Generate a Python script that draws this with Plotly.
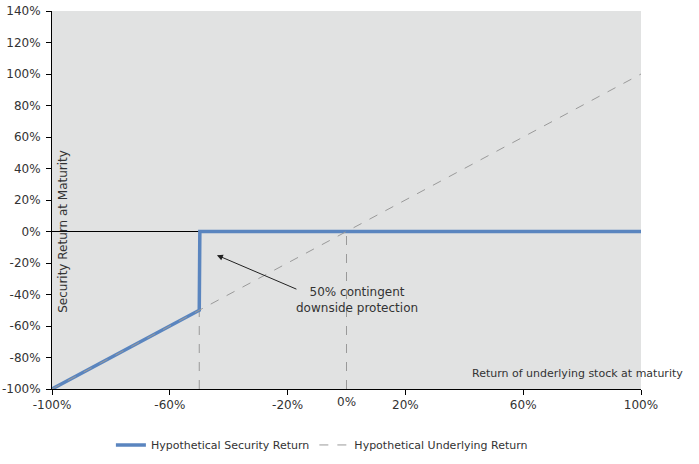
import plotly.graph_objects as go

# underlying stock return at maturity (%)
underlying_x = [-100, -50, 0, 100]
underlying_y = [-100, -50, 0, 100]

# security return: follows stock down to -50%, then protected at 0%
security_x = [-100, -50, -49.8, 100]
security_y = [-100, -50, 0, 0]

x_ticks = [-100, -60, -20, 20, 60, 100]
y_ticks = list(range(-100, 141, 20))

# guide lines down to the x axis
guide_x = [-50, 0]
guide_top = [-50, 0]

font_name = 'DejaVu Sans'
txt = '#333333'

fig = go.Figure()
for gx, gt in zip(guide_x, guide_top):
    fig.add_scatter(x=[gx, gx], y=[-100, gt], mode='lines', showlegend=False,
                    line=dict(color='#999999', width=1, dash='dash'), hoverinfo='skip')
fig.add_scatter(x=security_x, y=security_y, mode='lines', name='Hypothetical Security Return',
                line=dict(color='#5a85bf', width=3.5))
fig.add_scatter(x=underlying_x, y=underlying_y, mode='lines', name='Hypothetical Underlying Return',
                line=dict(color='#9a9a9a', width=1, dash='dash'))

fig.update_layout(
    width=699, height=464,
    margin=dict(l=52, r=58, t=11, b=75, autoexpand=False),
    paper_bgcolor='white', plot_bgcolor='#e1e2e2',
    font=dict(family=font_name, size=12, color=txt),
    legend=dict(orientation='h', x=0.1, y=-0.148, xanchor='left', yanchor='middle',
                font=dict(size=11, color=txt), bgcolor='rgba(0,0,0,0)', tracegroupgap=0,
                itemwidth=30),
    xaxis=dict(range=[-100, 100], tickvals=x_ticks, ticktext=[f'{v}%' for v in x_ticks],
               showgrid=False, zeroline=False, showline=True, linecolor='black', linewidth=1,
               ticks='outside', ticklen=5, tickcolor='black', automargin=False,
               ticklabeloverflow='allow', tickfont=dict(size=12, color=txt)),
    yaxis=dict(range=[-100, 140], tickvals=y_ticks, ticktext=[f'{v}%' for v in y_ticks],
               showgrid=False, zeroline=True, zerolinecolor='black', zerolinewidth=1,
               showline=True, linecolor='black', linewidth=1,
               ticks='outside', ticklen=5, tickcolor='black', automargin=False,
               ticklabeloverflow='allow', ticklabelstandoff=3,
               tickfont=dict(size=12, color=txt)),
)

fig.add_annotation(x=0, y=-100, yshift=-13, text='0%', showarrow=False,
                   font=dict(size=12, color=txt))
fig.add_annotation(x=1.075, y=0.04, xref='paper', yref='paper', xanchor='right', yanchor='middle',
                   text='Return of underlying stock at maturity', showarrow=False,
                   font=dict(size=11, color=txt))
fig.add_annotation(x=-96.5, y=0, textangle=-90, text='Security Return at Maturity',
                   showarrow=False, font=dict(size=12, color=txt))
fig.add_annotation(x=-44, y=-15, ax=-16.5, ay=-37, axref='x', ayref='y',
                   text='', showarrow=True, arrowhead=2, arrowsize=1.2, arrowwidth=1,
                   arrowcolor='#222222')
fig.add_annotation(x=3.5, y=-43.5, text='50% contingent<br>downside protection',
                   showarrow=False, font=dict(size=12, color=txt))

# drop the browser's default body margin so the chart sits at the page corner
fig.write_html('out.html', config={'displayModeBar': False},
               post_script="document.body.style.margin='0';")
